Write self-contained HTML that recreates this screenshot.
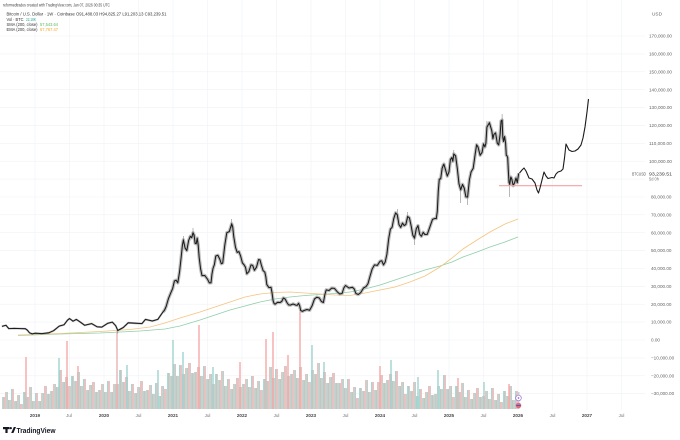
<!DOCTYPE html>
<html><head><meta charset="utf-8">
<style>
html,body{margin:0;padding:0;background:#fff;}
svg{display:block;}
text{font-family:"Liberation Sans",sans-serif;}
</style></head>
<body>
<svg width="680" height="440" viewBox="0 0 680 440" xmlns="http://www.w3.org/2000/svg">
<defs>
<pattern id="vp" x="0" y="0" width="8" height="10" patternUnits="userSpaceOnUse">
<rect x="0" y="0" width="1.34" height="10" fill="#a3d5d0"/>
<rect x="1.33" y="0" width="1.34" height="10" fill="#f7b5b3"/>
<rect x="2.66" y="0" width="1.34" height="10" fill="#a8d7d2"/>
<rect x="4" y="0" width="1.34" height="10" fill="#d9c6c6"/>
<rect x="5.33" y="0" width="1.34" height="10" fill="#f6b2b0"/>
<rect x="6.66" y="0" width="1.34" height="10" fill="#acd9d4"/>
</pattern>
</defs>
<rect x="0" y="0" width="680" height="440" fill="#ffffff"/>

<!-- grid -->
<path fill="none" stroke="#f1f2f4" stroke-width="0.6" d="M0 36H645M0 53.9H645M0 71.8H645M0 89.7H645M0 107.6H645M0 125.4H645M0 143.3H645M0 161.2H645M0 179.1H645M0 197H645M0 214.8H645M0 232.7H645M0 250.6H645M0 268.5H645M0 286.4H645M0 304.2H645M0 322.1H645M0 340H645M0 357.9H645M0 375.8H645M0 393.6H645M35 0V410M69.5 0V410M104 0V410M138.5 0V410M173 0V410M207.5 0V410M242 0V410M276.5 0V410M311 0V410M345.5 0V410M380 0V410M414.5 0V410M449 0V410M483.5 0V410M518 0V410M552.5 0V410M587 0V410M621.5 0V410"/>

<!-- volume -->
<path fill="url(#vp)" d="M2,409V397H5V392H8V400H11V389H14V401H17V395H20V404H23V392H26V397H29V387H32V401H35V393H38V401H41V393H44V386H47V394H50V391H53V384H56V387H59V370H62V382H65V377H68V386H71V376H74V381H77V372H80V386H83V379H86V390H89V385H92V382H95V392H98V390H101V384H104V392H107V381H110V392H113V384H116V384H119V370H122V382H125V377H128V391H131V384H134V393H137V387H140V381H143V391H146V390H149V385H152V394H155V383H158V396H161V386H164V389H167V373H170V376H173V364H176V376H179V365H182V374H185V368H188V363H191V373H194V372H197V367H200V376H203V366H206V379H209V374H212V384H215V374H218V380H221V371H224V386H227V379H230V389H233V384H236V378H239V387H242V384H245V379H248V387H251V376H254V388H257V381H260V390H263V379H266V381H269V367H272V378H275V369H278V379H281V372H284V366H287V376H290V374H293V370H296V378H299V367H302V380H305V374H308V382H311V370H314V374H317V363H320V378H323V372H326V383H329V377H332V373H335V383H338V383H341V379H344V388H347V379H350V392H353V387H356V398H359V388H362V391H365V380H368V392H371V382H374V390H377V382H380V375H383V383H386V380H389V374H392V381H395V371H398V386H401V382H404V394H407V386H410V391H413V382H416V396H419V389H422V398H425V392H428V386H431V395H434V394H437V386H440V389H443V375H446V389H449V386H452V397H455V386H458V392H461V383H464V397H467V390H470V399H473V393H476V388H479V397H482V396H485V391H488V399H491V388H494V400H497V394H500V402H503V391H506V396H509V386H512V400H515V391H518V392H519.5V409Z"/>
<g stroke-width="1.4">
<line x1="26" y1="409" x2="26" y2="357" stroke="#f5a9a7"/>
<line x1="67" y1="409" x2="67" y2="341" stroke="#f5a9a7"/>
<line x1="59" y1="409" x2="59" y2="358" stroke="#9fd3ce"/>
<line x1="117" y1="409" x2="117" y2="330" stroke="#e9b3b3"/>
<line x1="127" y1="409" x2="127" y2="365" stroke="#9fd3ce"/>
<line x1="173" y1="409" x2="173" y2="340" stroke="#9fd3ce"/>
<line x1="183" y1="409" x2="183" y2="352" stroke="#9fd3ce"/>
<line x1="199" y1="409" x2="199" y2="325" stroke="#f5a9a7"/>
<line x1="213" y1="409" x2="213" y2="367" stroke="#9fd3ce"/>
<line x1="266" y1="409" x2="266" y2="339" stroke="#f5a9a7"/>
<line x1="273" y1="409" x2="273" y2="332" stroke="#f5a9a7"/>
<line x1="300" y1="409" x2="300" y2="312" stroke="#f5a9a7"/>
<line x1="312" y1="409" x2="312" y2="345" stroke="#9fd3ce"/>
<line x1="324" y1="409" x2="324" y2="362" stroke="#9fd3ce"/>
<line x1="380" y1="409" x2="380" y2="366" stroke="#f5a9a7"/>
<line x1="391" y1="409" x2="391" y2="360" stroke="#9fd3ce"/>
<line x1="438" y1="409" x2="438" y2="370" stroke="#9fd3ce"/>
<line x1="458" y1="409" x2="458" y2="378" stroke="#f5a9a7"/>
<line x1="509" y1="409" x2="509" y2="384" stroke="#f5a9a7"/>
<line x1="78" y1="409" x2="78" y2="366" stroke="#f5a9a7"/>
<line x1="158" y1="409" x2="158" y2="370" stroke="#9fd3ce"/>
<line x1="240" y1="409" x2="240" y2="362" stroke="#f5a9a7"/>
<line x1="288" y1="409" x2="288" y2="355" stroke="#f5a9a7"/>
<line x1="418" y1="409" x2="418" y2="377" stroke="#9fd3ce"/>
<line x1="484" y1="409" x2="484" y2="382" stroke="#9fd3ce"/>
</g>

<!-- moving averages -->
<polyline fill="none" stroke="#8fcfaa" stroke-width="0.8" points="18,335.5 60,334 100,333 140,331 165,329 180,326 200,320 215,315 230,310 245,306 260,302 275,299 290,297 305,295.5 320,294.5 335,293.5 350,292 365,289 380,285 395,280 410,275 425,270 440,266 452,262 463,257 477,252 490,247 505,242 518,237"/>
<polyline fill="none" stroke="#f5c47e" stroke-width="0.8" points="18,335 60,333.5 100,331.5 130,329.5 150,327 165,323 180,318 200,312 215,307 230,302 245,297 260,294 275,292.5 290,292 305,293 320,294 335,295 350,295.5 365,293 380,290 395,287 410,282 425,276 440,267 452,258 463,249 477,240 490,232 505,224 518,219"/>

<!-- price (candles approximated) -->
<polyline fill="none" stroke="#a8a8a8" stroke-width="3.4" stroke-linejoin="round" opacity="0.75" points="162.7,312.3 164.4,310.4 166.1,306.6 168.5,298.4 170.9,292.6 172.7,288.4 174.4,281 176.1,280.2 177.8,282.8 179.6,271.5 181.3,256 182.4,245.2 183.4,239.9 185.1,248.1 186.8,250.6 188.6,240.6 190.3,236.3 191.7,237.7 193,232.7 194.1,235 195.1,243.4 196.2,243.8 197.2,238.1 198.2,245.2 199.2,257.8 200.6,268.9 202,275.6 204.8,275.5 207.5,279.2 209.3,282.8 211,282.8 212,273.8 213,268.5 214.4,264.6 215.8,256 217.9,255.3 219.9,259.5 221.3,263.7 222.7,263.1 224.8,245.1 226.8,232.7 229.3,231.6 231.7,223.8 232.7,226.8 233.7,236.3 235.5,247.3 237.2,252.4 238.9,251.6 240.6,256 242.4,262.9 244.1,264.9 245.5,267.3 246.8,273.8 248.9,271.5 251,264.9 252.7,265.4 254.4,270.3 256.5,267.2 258.6,259.5 260,259.9 261.3,264.9 263.1,270.6 264.8,272.1 265.8,276.6 266.8,284.6 268.9,287.6 271,287.3 272,292.6 273.1,300.7 274.1,303.6 275.1,304.2 277.6,302.3 280,302.5 281.7,301.5 283.4,298 285.2,299.1 286.9,302.5 288.6,304.9 290.3,305.1 293.1,304 295.8,305.1 297.2,305.3 298.6,303.3 299.7,305.9 300.7,310.5 302.4,311.4 304.1,310.5 306.9,309.5 309.6,310.3 312.1,305.7 314.5,298.9 316.9,297.2 319.3,298 321.4,301.5 323.4,302.5 324.8,294.9 326.2,289.9 329,290.5 331.7,288.1 334.5,288.4 337.2,291.7 339.7,294 342.1,293.5 343.8,288 345.5,285.5 349,288 352.4,287.3 354.2,288.9 355.9,293.5 358.3,294.5 360.7,292.6 363.5,288 366.2,286.4 368,283.6 369.7,277.4 372.1,269.1 374.5,264.9 377.3,265.4 380,261.3 381.8,260.8 383.5,264.9 385.2,262 386.9,254.2 388.7,238.7 390.4,229.1 392.1,227.3 393.8,218.4 395.6,212.9 397.3,214.8 399,224.7 400.7,227.4 402.5,223.1 404.2,225.6 405.9,224.4 407.6,216.6 409.4,217.8 411.1,225.6 412.8,235.1 414.5,238.1 416.3,228.7 418,225.6 419.7,234.3 421.4,236.3 423.2,232.3 424.9,234.5 427.3,234.3 429.7,227.4 432.5,219.4 435.2,218.4 436.3,218.6 437.3,211.3 438.3,190.9 439.3,179.1 440.7,178.8 442.1,168.4 443.9,164.1 445.6,170.1 447.3,176.1 449,171.9 450.4,159.5 451.8,157.6 452.8,161.3 453.8,154 455.6,155.8 457.3,168.4 459,183.9 460.7,189.8 462.5,184.4 464.2,188 465.9,196.9 467.6,197 469.4,179.8 471.1,171.9 473.2,168.3 475.2,154 476.6,144.8 478,146.9 480.1,155.3 482.1,152.3 483.5,143.9 484.9,146.9 485.9,143.2 486.9,127.2 489.4,122.7 491.8,130.8 492.9,138.8 493.9,134.4 495.6,132.9 497.3,143.3 498.7,144.9 500.1,134.4 501.1,120.9 502.1,120.1 502.8,137.1 503.5,141.5 504.6,136.5 505.6,143.3 506.3,155.3 507,155.8 507.7,157.7 508.3,170.1 509,182.2 509.7,184.4 510.8,177 511.8,179.1 513.2,185.7 514.6,182.7 516,178 517.3,182.7 518.7,173.3"/>
<polyline fill="none" stroke="#a8a8a8" stroke-width="2" stroke-linejoin="round" opacity="0.7" points="1.9,326.4 6,325.3 8.8,328.6 14.3,328.4 21.2,328.6 25.3,328.7 27.4,330.2 29.5,332.8 32.2,333.9 35,333.2 41.9,333.6 48.8,332.8 53.6,330.7 59.2,326.1 64,324.8 67.4,320.3 69.5,318.5 73,321.2 76.4,319.4 79.9,321.8 84.7,325.3 91.6,323.6 97.1,326.8 101.9,327.1 107.5,323.4 112.3,322.1 115.7,325.7 117.8,330.5 123.3,327.5 128.2,322.8 135.1,323.2 142,323.6 145.4,319.4 152.3,321 157.8,319.4 162.7,312.3"/>
<g stroke="#8a8a8a" stroke-width="0.6">
<line x1="193" y1="228" x2="193" y2="237"/>
<line x1="231.7" y1="219" x2="231.7" y2="228"/>
<line x1="397.3" y1="209" x2="397.3" y2="219"/>
<line x1="502.1" y1="114" x2="502.1" y2="124"/>
<line x1="509.7" y1="184" x2="509.7" y2="197"/>
<line x1="467.6" y1="197" x2="467.6" y2="205"/>
<line x1="460.7" y1="189" x2="460.7" y2="203"/>
<line x1="117.8" y1="330" x2="117.8" y2="333.5"/>
<line x1="183.4" y1="236" x2="183.4" y2="244"/>
<line x1="486.9" y1="121" x2="486.9" y2="130"/>
<line x1="442.1" y1="164" x2="442.1" y2="172"/>
<line x1="453.8" y1="150" x2="453.8" y2="158"/>
<line x1="407.6" y1="212" x2="407.6" y2="220"/>
<line x1="414.5" y1="235" x2="414.5" y2="245"/>
</g>
<polyline fill="none" stroke="#1b1b1b" stroke-width="1.05" stroke-linejoin="round" points="1.9,326.4 6,325.3 8.8,328.6 14.3,328.4 21.2,328.6 25.3,328.7 27.4,330.2 29.5,332.8 32.2,333.9 35,333.2 41.9,333.6 48.8,332.8 53.6,330.7 59.2,326.1 64,324.8 67.4,320.3 69.5,318.5 73,321.2 76.4,319.4 79.9,321.8 84.7,325.3 91.6,323.6 97.1,326.8 101.9,327.1 107.5,323.4 112.3,322.1 115.7,325.7 117.8,330.5 123.3,327.5 128.2,322.8 135.1,323.2 142,323.6 145.4,319.4 152.3,321 157.8,319.4 162.7,312.3 164.4,310.4 166.1,306.6 168.5,298.4 170.9,292.6 172.7,288.4 174.4,281 176.1,280.2 177.8,282.8 179.6,271.5 181.3,256 182.4,245.2 183.4,239.9 185.1,248.1 186.8,250.6 188.6,240.6 190.3,236.3 191.7,237.7 193,232.7 194.1,235 195.1,243.4 196.2,243.8 197.2,238.1 198.2,245.2 199.2,257.8 200.6,268.9 202,275.6 204.8,275.5 207.5,279.2 209.3,282.8 211,282.8 212,273.8 213,268.5 214.4,264.6 215.8,256 217.9,255.3 219.9,259.5 221.3,263.7 222.7,263.1 224.8,245.1 226.8,232.7 229.3,231.6 231.7,223.8 232.7,226.8 233.7,236.3 235.5,247.3 237.2,252.4 238.9,251.6 240.6,256 242.4,262.9 244.1,264.9 245.5,267.3 246.8,273.8 248.9,271.5 251,264.9 252.7,265.4 254.4,270.3 256.5,267.2 258.6,259.5 260,259.9 261.3,264.9 263.1,270.6 264.8,272.1 265.8,276.6 266.8,284.6 268.9,287.6 271,287.3 272,292.6 273.1,300.7 274.1,303.6 275.1,304.2 277.6,302.3 280,302.5 281.7,301.5 283.4,298 285.2,299.1 286.9,302.5 288.6,304.9 290.3,305.1 293.1,304 295.8,305.1 297.2,305.3 298.6,303.3 299.7,305.9 300.7,310.5 302.4,311.4 304.1,310.5 306.9,309.5 309.6,310.3 312.1,305.7 314.5,298.9 316.9,297.2 319.3,298 321.4,301.5 323.4,302.5 324.8,294.9 326.2,289.9 329,290.5 331.7,288.1 334.5,288.4 337.2,291.7 339.7,294 342.1,293.5 343.8,288 345.5,285.5 349,288 352.4,287.3 354.2,288.9 355.9,293.5 358.3,294.5 360.7,292.6 363.5,288 366.2,286.4 368,283.6 369.7,277.4 372.1,269.1 374.5,264.9 377.3,265.4 380,261.3 381.8,260.8 383.5,264.9 385.2,262 386.9,254.2 388.7,238.7 390.4,229.1 392.1,227.3 393.8,218.4 395.6,212.9 397.3,214.8 399,224.7 400.7,227.4 402.5,223.1 404.2,225.6 405.9,224.4 407.6,216.6 409.4,217.8 411.1,225.6 412.8,235.1 414.5,238.1 416.3,228.7 418,225.6 419.7,234.3 421.4,236.3 423.2,232.3 424.9,234.5 427.3,234.3 429.7,227.4 432.5,219.4 435.2,218.4 436.3,218.6 437.3,211.3 438.3,190.9 439.3,179.1 440.7,178.8 442.1,168.4 443.9,164.1 445.6,170.1 447.3,176.1 449,171.9 450.4,159.5 451.8,157.6 452.8,161.3 453.8,154 455.6,155.8 457.3,168.4 459,183.9 460.7,189.8 462.5,184.4 464.2,188 465.9,196.9 467.6,197 469.4,179.8 471.1,171.9 473.2,168.3 475.2,154 476.6,144.8 478,146.9 480.1,155.3 482.1,152.3 483.5,143.9 484.9,146.9 485.9,143.2 486.9,127.2 489.4,122.7 491.8,130.8 492.9,138.8 493.9,134.4 495.6,132.9 497.3,143.3 498.7,144.9 500.1,134.4 501.1,120.9 502.1,120.1 502.8,137.1 503.5,141.5 504.6,136.5 505.6,143.3 506.3,155.3 507,155.8 507.7,157.7 508.3,170.1 509,182.2 509.7,184.4 510.8,177 511.8,179.1 513.2,185.7 514.6,182.7 516,178 517.3,182.7 518.7,173.3"/>

<!-- projection -->
<line x1="499" x2="582" y1="185.7" y2="185.7" stroke="#f3a3a3" stroke-width="1.1"/>
<polyline fill="none" stroke="#1b1b1b" stroke-width="1.1" stroke-linejoin="round" points="519.5,173 522,170 524,168 526,171 529,178 532,179 535,183 537,190 538.5,193 540,188 542,180 544,172 546,176 548,178.5 550,178 552,177.5 554,178 556,174 558,172 561,171 563,169 564.5,158 566,144 567.5,147 569,150 572,151.5 575,151 578,149 581,145 583,138 585,127 587,112 588.5,99"/>

<!-- header -->
<g font-size="4.6">
<text x="3" y="6.5" fill="#444" textLength="107" lengthAdjust="spacingAndGlyphs">reformedtrades created with TradingView.com, Jan 07, 2026 00:35 UTC</text>
<text x="6.5" y="15.5" fill="#333" textLength="160" lengthAdjust="spacingAndGlyphs">Bitcoin / U.S. Dollar · 1W · Coinbase  O91,488.03  H94,825.27  L91,203.13  C93,239.51</text>
<text x="6.5" y="21" fill="#333" textLength="17" lengthAdjust="spacingAndGlyphs">Vol · BTC</text>
<text x="26" y="21" fill="#26a69a" textLength="10" lengthAdjust="spacingAndGlyphs">22.18K</text>
<text x="6.5" y="26" fill="#333" textLength="31" lengthAdjust="spacingAndGlyphs">SMA (200, close)</text>
<text x="40" y="26" fill="#5cb85c" textLength="18" lengthAdjust="spacingAndGlyphs">57,543.64</text>
<text x="6.5" y="31" fill="#333" textLength="31" lengthAdjust="spacingAndGlyphs">EMA (200, close)</text>
<text x="40" y="31" fill="#f5a623" textLength="18" lengthAdjust="spacingAndGlyphs">67,767.47</text>
</g>

<!-- right axis -->
<g font-size="4.6" fill="#666">
<text x="652" y="15.5" textLength="10" lengthAdjust="spacingAndGlyphs">USD</text>
<text x="649" y="37.6">170,000.00</text>
<text x="649" y="55.5">160,000.00</text>
<text x="649" y="73.4">150,000.00</text>
<text x="649" y="91.3">140,000.00</text>
<text x="649" y="109.2">130,000.00</text>
<text x="649" y="127.0">120,000.00</text>
<text x="649" y="144.9">110,000.00</text>
<text x="649" y="162.8">100,000.00</text>
<text x="651" y="198.6">80,000.00</text>
<text x="651" y="216.4">70,000.00</text>
<text x="651" y="234.3">60,000.00</text>
<text x="651" y="252.2">50,000.00</text>
<text x="651" y="270.1">40,000.00</text>
<text x="651" y="288.0">30,000.00</text>
<text x="651" y="305.8">20,000.00</text>
<text x="651" y="323.7">10,000.00</text>
<text x="651" y="341.6">0.00</text>
<text x="651" y="359.5">−10,000.00</text>
<text x="651" y="377.4">−20,000.00</text>
<text x="651" y="395.2">−30,000.00</text>
</g>
<g font-size="4.2">
<text x="632" y="175.5" fill="#555" textLength="14" lengthAdjust="spacingAndGlyphs">BTCUSD</text>
<text x="649" y="175.5" fill="#333" textLength="23" lengthAdjust="spacingAndGlyphs">93,239.51</text>
<text x="649" y="180.5" fill="#777" textLength="10" lengthAdjust="spacingAndGlyphs">5d 0h</text>
</g>

<!-- time axis -->
<g font-size="4.6" text-anchor="middle">
<text x="35" y="417" fill="#444" font-weight="bold">2019</text>
<text x="69" y="417" fill="#777">Jul</text>
<text x="104" y="417" fill="#444" font-weight="bold">2020</text>
<text x="138.5" y="417" fill="#777">Jul</text>
<text x="173" y="417" fill="#444" font-weight="bold">2021</text>
<text x="207.5" y="417" fill="#777">Jul</text>
<text x="242" y="417" fill="#444" font-weight="bold">2022</text>
<text x="276.5" y="417" fill="#777">Jul</text>
<text x="311" y="417" fill="#444" font-weight="bold">2023</text>
<text x="345.5" y="417" fill="#777">Jul</text>
<text x="380" y="417" fill="#444" font-weight="bold">2024</text>
<text x="414.5" y="417" fill="#777">Jul</text>
<text x="449" y="417" fill="#444" font-weight="bold">2025</text>
<text x="483.5" y="417" fill="#777">Jul</text>
<text x="518" y="417" fill="#444" font-weight="bold">2026</text>
<text x="552.5" y="417" fill="#777">Jul</text>
<text x="587" y="417" fill="#444" font-weight="bold">2027</text>
<text x="621.5" y="417" fill="#777">Jul</text>
</g>

<!-- icons -->
<circle cx="518.5" cy="398" r="2.8" fill="#fff" stroke="#9b6ad8" stroke-width="0.7"/>
<circle cx="518.5" cy="398" r="0.9" fill="#9b6ad8"/>
<circle cx="518.5" cy="405.5" r="2.8" fill="#e06a7a"/>
<rect x="516.3" y="405" width="4.4" height="1" fill="#3b5cc4"/>

<!-- TradingView logo -->
<g fill="#131722">
<rect x="3" y="427" width="6.5" height="2.2"/>
<rect x="5.4" y="427" width="2.2" height="6"/>
<circle cx="10.8" cy="428.1" r="1.1"/>
<polygon points="11.2,433 13.8,427 16,427 13.4,433"/>
<text x="16.5" y="433" font-size="7.6" font-weight="bold" textLength="39" lengthAdjust="spacingAndGlyphs">TradingView</text>
</g>
</svg>
</body></html>
